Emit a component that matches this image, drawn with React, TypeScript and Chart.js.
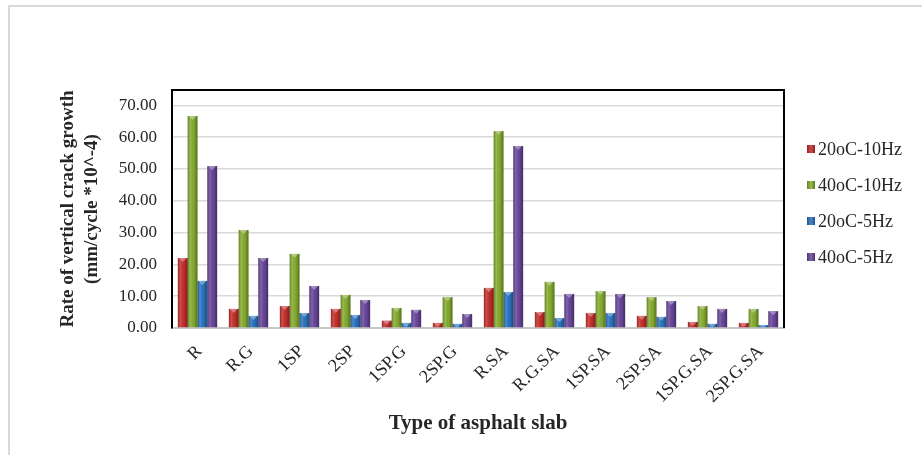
import React, { useEffect, useRef } from 'react';
import { Chart, registerables } from 'chart.js';

Chart.register(...registerables);

const categories = ['R', 'R.G', '1SP', '2SP', '1SP.G', '2SP.G', 'R.SA', 'R.G.SA', '1SP.SA', '2SP.SA', '1SP.G.SA', '2SP.G.SA'];
const seriesLabels = ['20oC-10Hz', '40oC-10Hz', '20oC-5Hz', '40oC-5Hz'];
const values20C10Hz = [22.0, 6.0, 6.9, 6.0, 2.3, 1.6, 12.6, 5.0, 4.7, 3.8, 1.9, 1.6];
const values40C10Hz = [66.6, 30.8, 23.3, 10.4, 6.3, 9.7, 61.9, 14.5, 11.6, 9.7, 6.9, 6.0];
const values20C5Hz = [14.8, 3.8, 4.7, 4.1, 1.6, 1.3, 11.3, 3.1, 4.7, 3.5, 1.3, 0.9];
const values40C5Hz = [50.9, 22.0, 13.2, 8.8, 5.7, 4.4, 57.2, 10.7, 10.7, 8.5, 6.0, 5.3];
const yTickValues = [0, 10, 20, 30, 40, 50, 60, 70];
const yAxisMax = 74.8;
const yTitleLines = ['Rate of vertical crack growth', '(mm/cycle *10^-4)'];
const xTitle = 'Type of asphalt slab';

const seriesColors = ['#c62f2c', '#86ad31', '#2b74c2', '#6a479d'];
const FONT = '"Liberation Serif", "Times New Roman", serif';

const shadePlugin = {
  id: 'shade3d',
  afterDatasetsDraw(chart: any) {
    const ctx = chart.ctx as CanvasRenderingContext2D;
    ctx.save();
    chart.data.datasets.forEach((_ds: any, i: number) => {
      const meta = chart.getDatasetMeta(i);
      meta.data.forEach((bar: any) => {
        const { x, y, base, width } = bar.getProps(['x', 'y', 'base', 'width'], true);
        const l = x - width / 2;
        const r = x + width / 2;
        const h = base - y;
        if (h <= 0) return;
        const g = ctx.createLinearGradient(l, 0, r, 0);
        g.addColorStop(0, 'rgba(0,0,0,0.28)');
        g.addColorStop(0.3, 'rgba(255,255,255,0.14)');
        g.addColorStop(0.6, 'rgba(0,0,0,0.02)');
        g.addColorStop(1, 'rgba(0,0,0,0.35)');
        ctx.fillStyle = g;
        ctx.fillRect(l, y, width, h);
        const capH = Math.min(4, h);
        ctx.fillStyle = 'rgba(255,255,255,0.35)';
        ctx.beginPath();
        ctx.moveTo(l + 1, y);
        ctx.lineTo(r - 1, y);
        ctx.lineTo(x, y + capH);
        ctx.closePath();
        ctx.fill();
      });
    });
    ctx.restore();
  },
  afterDraw(chart: any) {
    const { ctx, chartArea } = chart;
    ctx.save();
    ctx.strokeStyle = '#000000';
    ctx.lineWidth = 2;
    ctx.beginPath();
    ctx.moveTo(chartArea.left, chartArea.top);
    ctx.lineTo(chartArea.right, chartArea.top);
    ctx.lineTo(chartArea.right, chartArea.bottom);
    ctx.stroke();
    ctx.restore();
  },
};

export default function App() {
  const canvasRef = useRef<HTMLCanvasElement | null>(null);

  useEffect(() => {
    if (!canvasRef.current) return;
    Chart.defaults.font.family = FONT;
    const seriesValues = [values20C10Hz, values40C10Hz, values20C5Hz, values40C5Hz];
    const chart = new Chart(canvasRef.current, {
      type: 'bar',
      data: {
        labels: categories,
        datasets: seriesLabels.map((label, i) => ({
          label,
          data: seriesValues[i],
          backgroundColor: seriesColors[i],
          borderWidth: 0,
          categoryPercentage: 0.77,
          barPercentage: 1.0,
        })),
      },
      options: {
        animation: false,
        responsive: true,
        maintainAspectRatio: false,
        layout: { padding: { left: 0, top: 90, right: 138, bottom: 0 } },
        plugins: {
          legend: { display: false },
          tooltip: { enabled: false },
        },
        scales: {
          x: {
            grid: { display: false, drawTicks: false },
            border: { display: true, color: '#c8c8c8', width: 2 },
            ticks: {
              autoSkip: false,
              minRotation: 45,
              maxRotation: 45,
              padding: 13,
              labelOffset: 2,
              color: '#262626',
              font: { family: FONT, size: 18 },
            },
            title: {
              display: true,
              text: xTitle,
              color: '#262626',
              font: { family: FONT, size: 21, weight: 'bold', lineHeight: 1.2 },
              padding: { top: 0, bottom: 19 },
            },
            afterFit(scale: any) {
              scale.height = 127;
            },
          },
          y: {
            min: 0,
            max: yAxisMax,
            grid: { color: '#d9d9d9', lineWidth: 1.5, drawTicks: false },
            border: { display: true, color: '#000000', width: 2 },
            ticks: {
              stepSize: 10,
              padding: 15,
              color: '#262626',
              font: { family: FONT, size: 17 },
              callback: (v: any) => Number(v).toFixed(2),
            },
            afterBuildTicks(scale: any) {
              scale.ticks = yTickValues.map((v) => ({ value: v }));
            },
            title: {
              display: true,
              text: yTitleLines,
              color: '#262626',
              font: { family: FONT, size: 19, weight: 'bold', lineHeight: 1.25 },
              padding: { top: 56, bottom: 0 },
            },
            afterFit(scale: any) {
              scale.width = 172;
            },
          },
        },
      },
      plugins: [shadePlugin],
    });
    return () => chart.destroy();
  }, []);

  return (
    <div style={{ position: 'absolute', left: 0, top: 0, width: 922, height: 455, background: '#ffffff', overflow: 'hidden' }}>
      <div style={{ position: 'absolute', left: 8, top: 5, width: 930, height: 460, borderLeft: '2px solid #d9d9d9', borderTop: '2px solid #d9d9d9' }} />
      <div style={{ position: 'absolute', left: 0, top: 0, width: 922, height: 455 }}>
        <canvas ref={canvasRef} />
      </div>
      {seriesLabels.map((label, i) => (
        <div
          key={label}
          style={{
            position: 'absolute',
            left: 807,
            top: 149 + i * 36 - 12,
            height: 24,
            display: 'flex',
            alignItems: 'center',
            fontFamily: FONT,
            fontSize: 18,
            color: '#262626',
            whiteSpace: 'nowrap',
          }}
        >
          <span
            style={{
              display: 'inline-block',
              width: 8,
              height: 8,
              marginRight: 3,
              background: `linear-gradient(to right, rgba(0,0,0,0.25), rgba(255,255,255,0.15), rgba(0,0,0,0.3)), ${seriesColors[i]}`,
            }}
          />
          <span>{label}</span>
        </div>
      ))}
    </div>
  );
}
